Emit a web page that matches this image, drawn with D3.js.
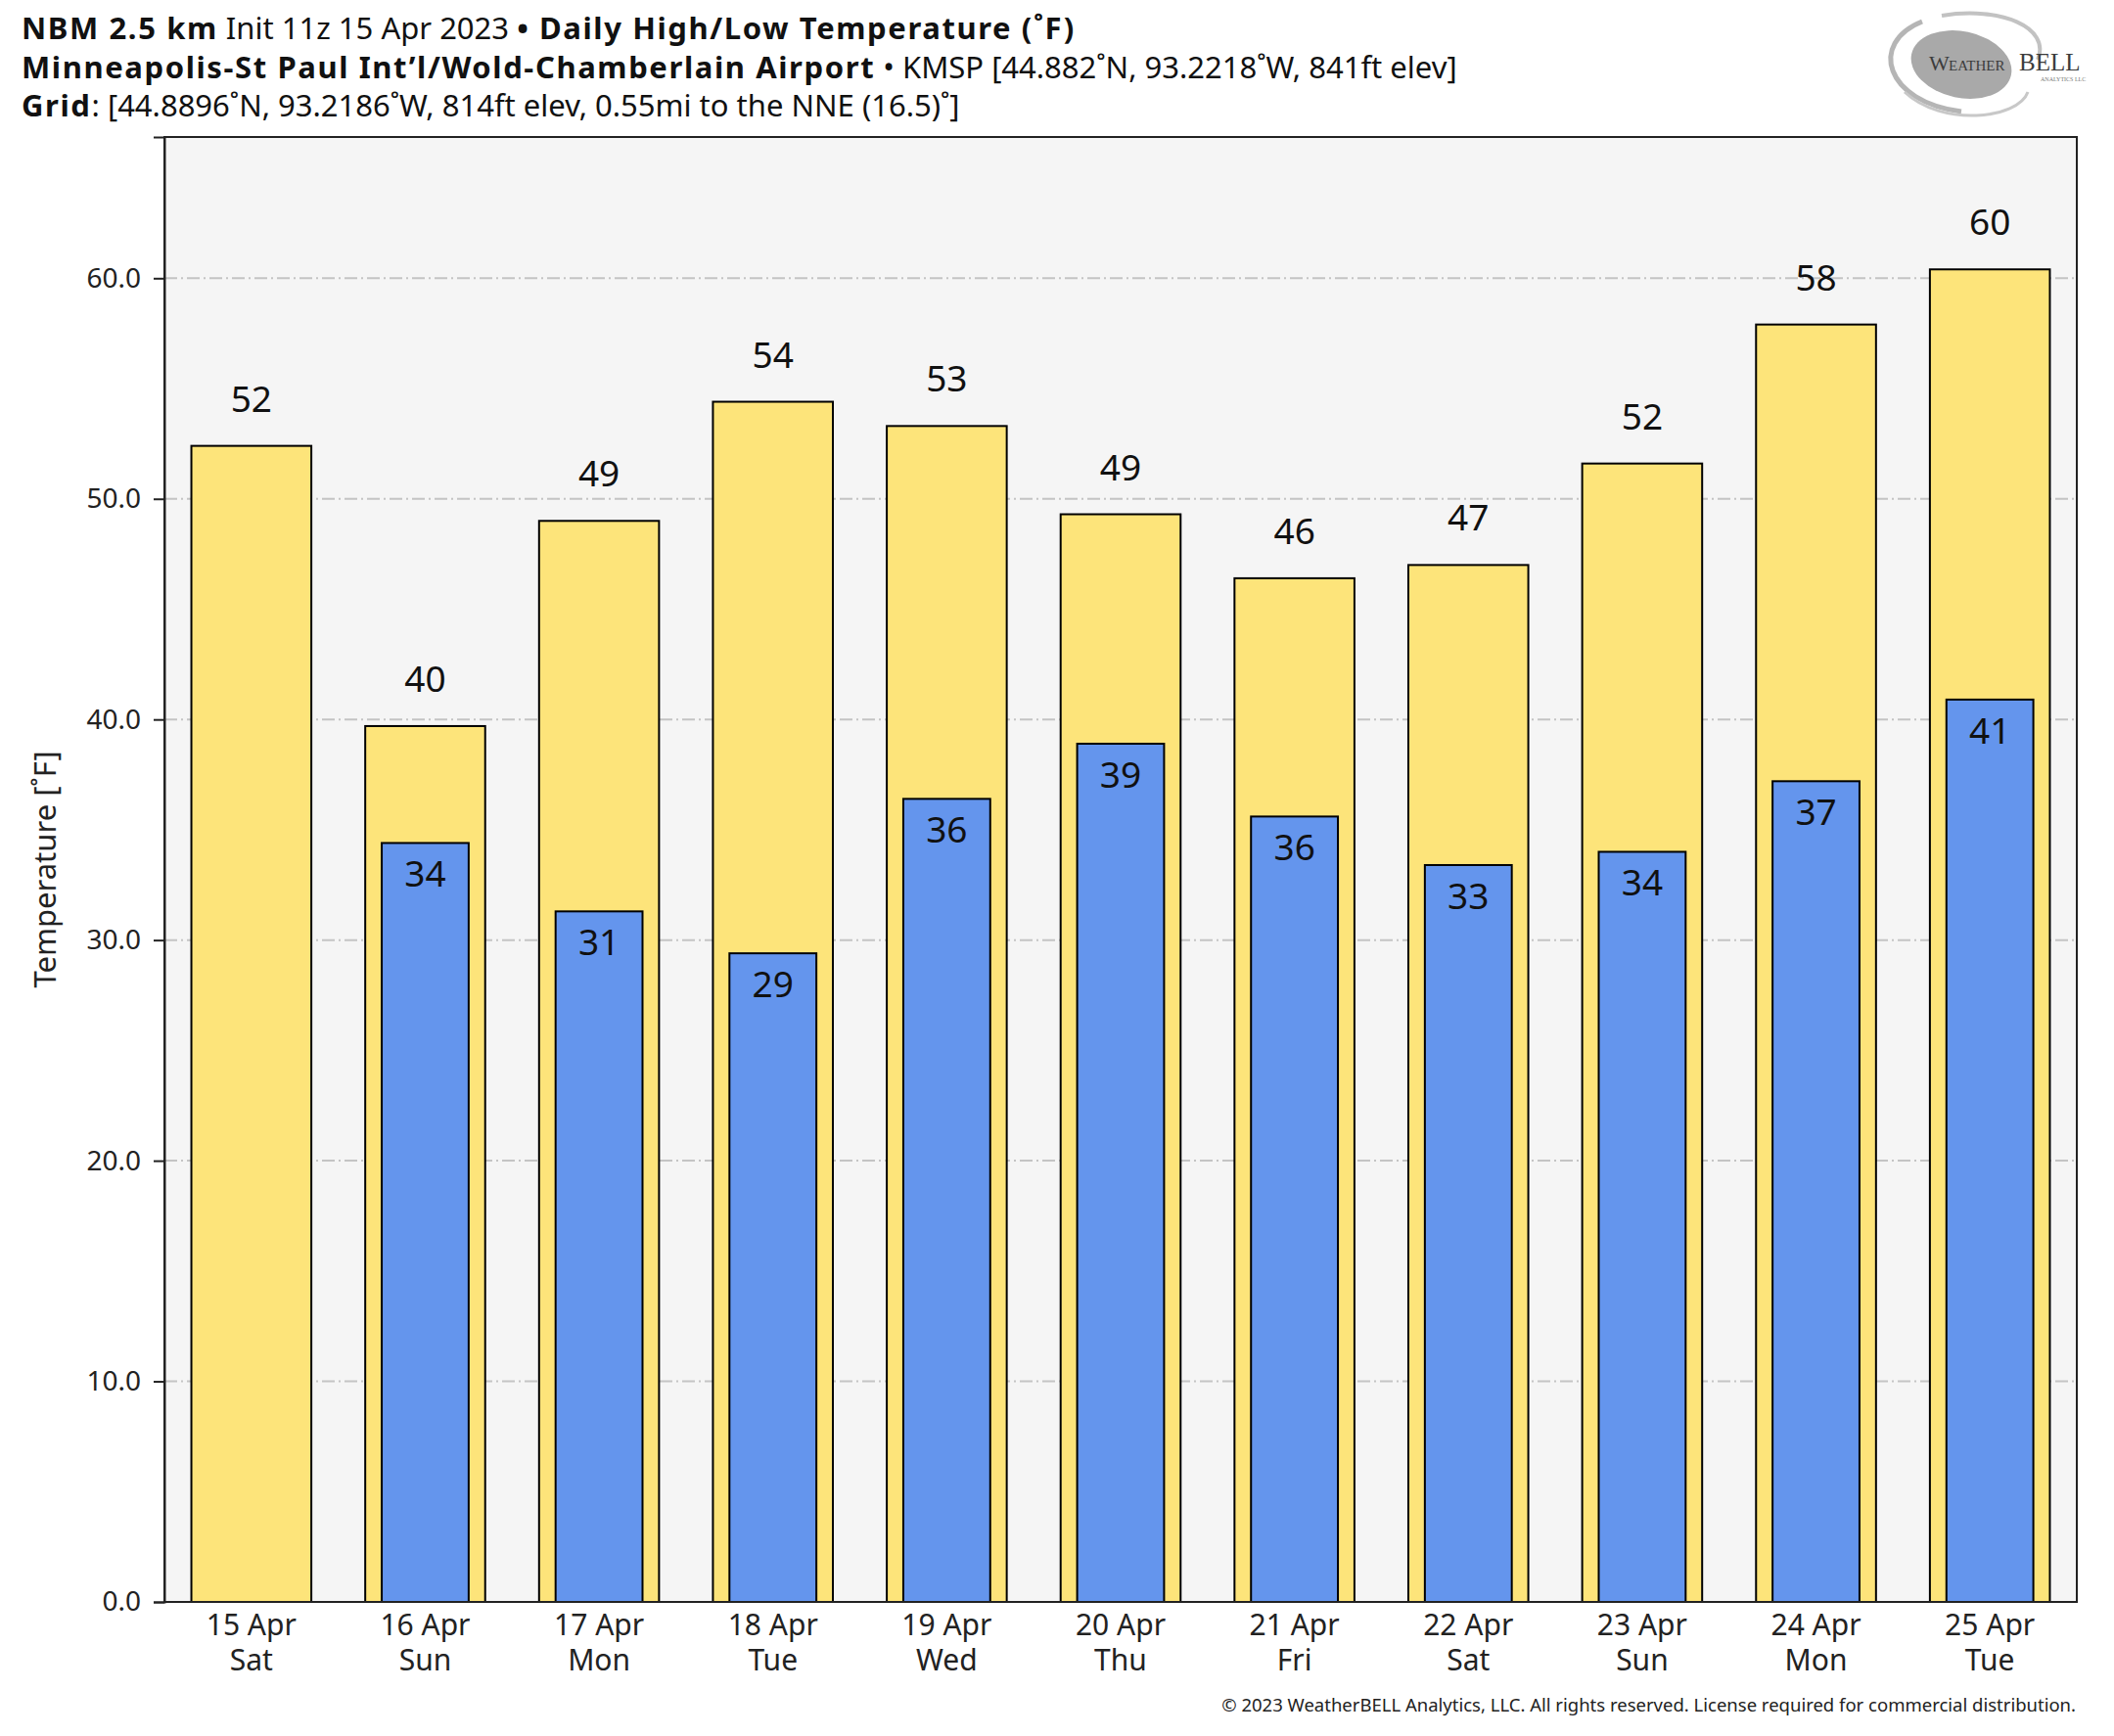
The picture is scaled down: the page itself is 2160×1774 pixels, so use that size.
<!DOCTYPE html>
<html>
<head>
<meta charset="utf-8">
<script src="https://cdn.jsdelivr.net/npm/d3@7"></script>
<style>
    body { margin: 0; background: #fff; }
    svg { display: block; font-family: "Noto Sans", sans-serif; }
</style>
</head>
<body>
<svg width="2160" height="1774"></svg>
<script>
// dates on the x axis
var dates = ["15 Apr", "16 Apr", "17 Apr", "18 Apr", "19 Apr", "20 Apr",
    "21 Apr", "22 Apr", "23 Apr", "24 Apr", "25 Apr"];
var weekdays = ["Sat", "Sun", "Mon", "Tue", "Wed", "Thu", "Fri", "Sat", "Sun", "Mon", "Tue"];

// daily high / low (°F)
var highs = [52.4, 39.7, 49.0, 54.4, 53.3, 49.3, 46.4, 47.0, 51.6, 57.9, 60.4];
var lows = [null, 34.4, 31.3, 29.4, 36.4, 38.9, 35.6, 33.4, 34.0, 37.2, 40.9];

var yTicks = [0, 10, 20, 30, 40, 50, 60];

var titleLines = [
    [["NBM 2.5 km", true], [" Init 11z 15 Apr 2023 ", false], ["\u2022 Daily High/Low Temperature (\u02DAF)", true]],
    [["Minneapolis-St Paul Int\u2019l/Wold-Chamberlain Airport", true], [" \u2022 KMSP [44.882\u02DAN, 93.2218\u02DAW, 841ft elev]", false]],
    [["Grid", true], [": [44.8896\u02DAN, 93.2186\u02DAW, 814ft elev, 0.55mi to the NNE (16.5)\u02DA]", false]]
];

d3.select(window).on('load', init);

function init() {
    var svg = d3.select("svg"),
        margin = { top: 140, right: 38, bottom: 137, left: 168 },
        width = +svg.attr("width") - margin.left - margin.right,
        height = +svg.attr("height") - margin.top - margin.bottom,
        g = svg.append("g").attr("transform", "translate(" + margin.left + "," + margin.top + ")");

    var x = d3.scaleBand()
        .domain(dates)
        .range([0, width]);

    var y = d3.scaleLinear()
        .domain([0, 66.4])
        .range([height, 0]);

    // plot background
    g.append("rect")
        .attr("width", width)
        .attr("height", height)
        .attr("fill", "#f5f5f5");

    // dash-dot grid
    g.append("g")
        .selectAll("line")
        .data(yTicks.slice(1))
        .enter()
        .append("line")
        .attr("x1", 0)
        .attr("x2", width)
        .attr("y1", function (d) { return y(d); })
        .attr("y2", function (d) { return y(d); })
        .attr("stroke", "#c4c4c4")
        .attr("stroke-width", 2)
        .attr("stroke-dasharray", "13,4,2,4");

    var highW = x.bandwidth() * 0.69,
        lowW = x.bandwidth() * 0.5;

    // highs
    g.append("g")
        .selectAll("rect")
        .data(highs)
        .enter()
        .append("rect")
        .attr("x", function (d, i) { return x(dates[i]) + (x.bandwidth() - highW) / 2; })
        .attr("y", function (d) { return y(d); })
        .attr("width", highW)
        .attr("height", function (d) { return height - y(d); })
        .attr("fill", "#fde47a")
        .attr("stroke", "#000")
        .attr("stroke-width", 2);

    // lows
    var lowData = lows.map(function (d, i) { return { date: dates[i], v: d }; })
        .filter(function (d) { return d.v !== null; });

    g.append("g")
        .selectAll("rect")
        .data(lowData)
        .enter()
        .append("rect")
        .attr("x", function (d) { return x(d.date) + (x.bandwidth() - lowW) / 2; })
        .attr("y", function (d) { return y(d.v); })
        .attr("width", lowW)
        .attr("height", function (d) { return height - y(d.v); })
        .attr("fill", "#6495ed")
        .attr("stroke", "#000")
        .attr("stroke-width", 2);

    // value labels
    g.append("g")
        .selectAll("text")
        .data(highs)
        .enter()
        .append("text")
        .attr("x", function (d, i) { return x(dates[i]) + x.bandwidth() / 2; })
        .attr("y", function (d) { return y(d) - 35; })
        .attr("text-anchor", "middle")
        .attr("font-size", 37)
        .attr("fill", "#111")
        .text(function (d) { return Math.round(d); });

    g.append("g")
        .selectAll("text")
        .data(lowData)
        .enter()
        .append("text")
        .attr("x", function (d) { return x(d.date) + x.bandwidth() / 2; })
        .attr("y", function (d) { return y(d.v) + 45; })
        .attr("text-anchor", "middle")
        .attr("font-size", 37)
        .attr("fill", "#111")
        .text(function (d) { return Math.round(d.v); });

    // frame
    g.append("rect")
        .attr("width", width)
        .attr("height", height)
        .attr("fill", "none")
        .attr("stroke", "#222")
        .attr("stroke-width", 2);

    // y axis
    var yAxis = g.append("g")
        .call(d3.axisLeft(y).tickValues(yTicks).tickFormat(d3.format(".1f")).tickSize(11).tickPadding(13));
    yAxis.select(".domain").attr("stroke", "#222").attr("stroke-width", 2);
    yAxis.selectAll(".tick line").attr("stroke", "#222").attr("stroke-width", 2);
    yAxis.selectAll(".tick text")
        .attr("font-family", "Noto Sans")
        .attr("font-size", 28)
        .attr("fill", "#222");

    // x labels: date line and weekday line
    var xg = g.append("g");
    xg.selectAll("text.date")
        .data(dates)
        .enter()
        .append("text")
        .attr("class", "date")
        .attr("x", function (d) { return x(d) + x.bandwidth() / 2; })
        .attr("y", height + 34)
        .attr("text-anchor", "middle")
        .attr("font-size", 30)
        .attr("fill", "#222")
        .text(function (d) { return d; });
    xg.selectAll("text.day")
        .data(weekdays)
        .enter()
        .append("text")
        .attr("class", "day")
        .attr("x", function (d, i) { return x(dates[i]) + x.bandwidth() / 2; })
        .attr("y", height + 70)
        .attr("text-anchor", "middle")
        .attr("font-size", 30)
        .attr("fill", "#222")
        .text(function (d) { return d; });

    // y label
    svg.append("text")
        .attr("transform", "translate(57," + (margin.top + height / 2) + ") rotate(-90)")
        .attr("text-anchor", "middle")
        .attr("font-size", 31)
        .attr("fill", "#222")
        .text("Temperature [\u02DAF]");

    // title block
    var baselines = [40, 80, 119];
    titleLines.forEach(function (line, i) {
        var t = svg.append("text")
            .attr("x", 22)
            .attr("y", baselines[i])
            .attr("font-size", 31)
            .attr("fill", "#111");
        line.forEach(function (part) {
            t.append("tspan")
                .attr("font-weight", part[1] ? "bold" : "normal")
                .attr("letter-spacing", part[1] ? 1.6 : 0)
                .text(part[0]);
        });
    });

    // copyright
    svg.append("text")
        .attr("x", 2121)
        .attr("y", 1749)
        .attr("text-anchor", "end")
        .attr("font-size", 18.5)
        .attr("fill", "#222")
        .text("\u00A9 2023 WeatherBELL Analytics, LLC. All rights reserved. License required for commercial distribution.");

    drawLogo(svg);
}

function drawLogo(svg) {
    var lg = svg.append("g").attr("transform", "translate(2004,66)");
    lg.append("ellipse")
        .attr("rx", 52).attr("ry", 34)
        .attr("transform", "rotate(12)")
        .attr("fill", "#a9a9a9");
    lg.append("path")
        .attr("d", "M-40,-44 C-95,-22 -78,38 0,48")
        .attr("fill", "none").attr("stroke", "#b5b5b5").attr("stroke-width", 5);
    lg.append("path")
        .attr("d", "M-20,-50 C40,-60 92,-38 78,-5")
        .attr("fill", "none").attr("stroke", "#c2c2c2").attr("stroke-width", 4);
    lg.append("path")
        .attr("d", "M-58,28 C-20,64 58,56 68,28")
        .attr("fill", "none").attr("stroke", "#c8c8c8").attr("stroke-width", 3);
    var serif = "Liberation Serif, serif";
    lg.append("text").attr("x", -33).attr("y", 6)
        .attr("font-family", serif).attr("font-size", 22).attr("fill", "#3c3c3c").text("W");
    lg.append("text").attr("x", -13).attr("y", 6)
        .attr("font-family", serif).attr("font-size", 15).attr("fill", "#3c3c3c").text("EATHER");
    lg.append("text").attr("x", 59).attr("y", 6)
        .attr("font-family", serif).attr("font-size", 25).attr("fill", "#3c3c3c").text("BELL");
    lg.append("text").attr("x", 81).attr("y", 17)
        .attr("font-family", serif).attr("font-size", 6).attr("fill", "#777").text("ANALYTICS LLC");
}
</script>
</body>
</html>
